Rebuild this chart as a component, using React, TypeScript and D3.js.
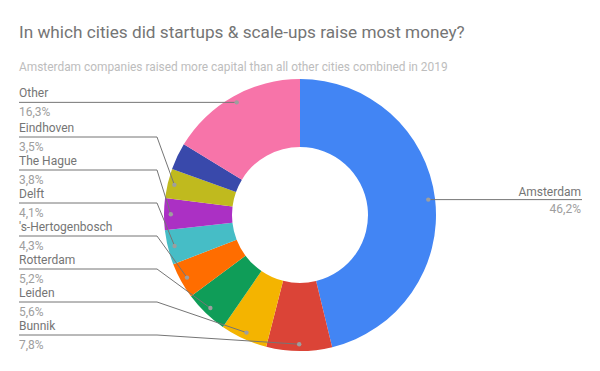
import * as d3 from 'd3';

const cities = [
  'Amsterdam',
  'Bunnik',
  'Leiden',
  'Rotterdam',
  "'s-Hertogenbosch",
  'Delft',
  'The Hague',
  'Eindhoven',
  '',
  'Other',
];
const shares = [46.2, 7.8, 5.6, 5.2, 4.3, 4.1, 3.8, 3.5, 3.2, 16.3];
const colours = [
  '#4285f4',
  '#db4437',
  '#f4b400',
  '#0f9d58',
  '#ff6d00',
  '#46bdc6',
  '#ab30c4',
  '#c0ba1e',
  '#3949ab',
  '#f774a9',
];

const width = 600;
const height = 371;
const cx = 300;
const cy = 215;
const outer = 136;
const inner = 68;
const spacing = 33;
const bottomLimit = 335;
const bendX = 157;

type Slice = d3.PieArcDatum<number> & { i: number };

export default function App() {
  const pie = d3
    .pie<number>()
    .sort(null)
    .value((d) => d);
  const arcs = pie(shares).map((a, i) => ({ ...a, i })) as Slice[];
  const arc = d3.arc<Slice>().innerRadius(inner).outerRadius(outer);
  const dotArc = d3
    .arc<Slice>()
    .innerRadius(outer * 0.95)
    .outerRadius(outer * 0.95);

  const fmt = (v: number) => v.toFixed(1).replace('.', ',') + '%';

  // label placement: dots at slice middle, left labels stacked upward from the bottom
  const labelled = arcs
    .filter((a) => cities[a.i] !== '')
    .map((a) => {
      const [x, y] = dotArc.centroid(a);
      const mid = (a.startAngle + a.endAngle) / 2;
      return { a, x: cx + x, y: cy + y, left: mid > Math.PI, ly: cy + y };
    });

  const left = labelled.filter((l) => l.left).sort((p, q) => q.y - p.y);
  let limit = bottomLimit;
  left.forEach((l) => {
    l.ly = Math.min(l.y, limit);
    limit = l.ly - spacing;
  });

  return (
    <svg
      width={width}
      height={height}
      style={{ position: 'absolute', left: 0, top: 0, background: '#fff' }}
      fontFamily="Roboto, sans-serif"
    >
      <text x={19} y={38} fontSize={17.2} fill="#757575">
        In which cities did startups &amp; scale-ups raise most money?
      </text>
      <text x={19} y={71} fontSize={11.9} fill="#bdbdbd">
        Amsterdam companies raised more capital than all other cities combined in 2019
      </text>

      <g transform={`translate(${cx},${cy})`}>
        {arcs.map((a) => (
          <path key={a.i} d={arc(a) ?? ''} fill={colours[a.i]} />
        ))}
      </g>

      {labelled.map((l) => {
        const name = cities[l.a.i];
        const pct = fmt(shares[l.a.i]);
        if (l.left) {
          const pts: [number, number][] = [
            [19, l.ly],
            [bendX, l.ly],
            [l.x, l.y],
          ];
          return (
            <g key={l.a.i}>
              <path
                d={d3.line()(pts) ?? ''}
                fill="none"
                stroke="#757575"
                strokeWidth={1}
              />
              <circle cx={l.x} cy={l.y} r={2.2} fill="#9e9e9e" />
              <text x={19} y={l.ly - 5} fontSize={12} fill="#757575">
                {name}
              </text>
              <text x={19} y={l.ly + 14} fontSize={12} fill="#9e9e9e">
                {pct}
              </text>
            </g>
          );
        }
        return (
          <g key={l.a.i}>
            <line x1={l.x} y1={l.y} x2={582} y2={l.y} stroke="#757575" />
            <circle cx={l.x} cy={l.y} r={2.2} fill="#9e9e9e" />
            <text x={581} y={l.y - 4} fontSize={12} fill="#757575" textAnchor="end">
              {name}
            </text>
            <text x={581} y={l.y + 13} fontSize={12} fill="#9e9e9e" textAnchor="end">
              {pct}
            </text>
          </g>
        );
      })}
    </svg>
  );
}
